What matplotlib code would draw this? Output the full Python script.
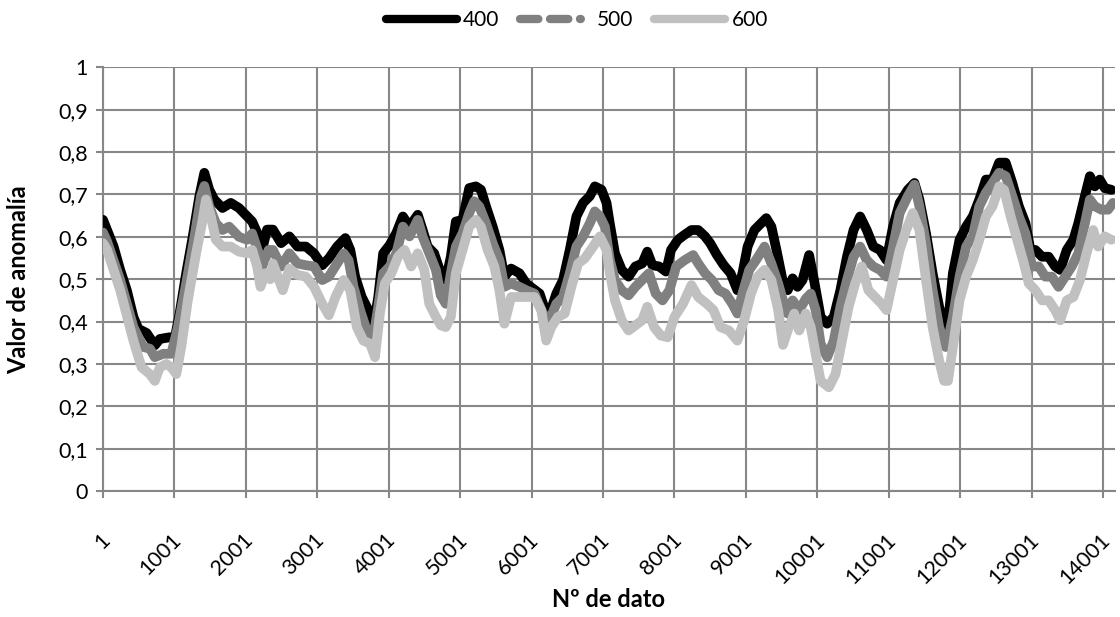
#Valor de anomalía por nº de dato (ventanas 400, 500, 600)
import numpy as np
import matplotlib
matplotlib.use('Agg')
import matplotlib.pyplot as plt
import matplotlib.transforms as mtransforms
from matplotlib.lines import Line2D

plt.rcParams['font.family'] = ['Lato', 'DejaVu Sans']

#datos (nº de dato, valor)
x_400 = [1, 149, 241, 334, 426, 495, 611, 726, 796, 934, 1003, 1073, 1165, 1257, 1350, 1419, 1488, 1558, 1673, 1789,
         1904, 2020, 2089, 2181, 2228, 2297, 2379, 2494, 2609, 2724, 2840, 2955, 3070, 3162, 3278, 3393, 3462, 3531,
         3623, 3716, 3785, 3854, 3923, 4015, 4107, 4199, 4291, 4407, 4476, 4545, 4637, 4729, 4799, 4870, 4940, 5034,
         5128, 5221, 5292, 5362, 5456, 5550, 5620, 5714, 5831, 5925, 6019, 6113, 6206, 6277, 6347, 6441, 6535, 6628,
         6722, 6816, 6886, 6980, 7050, 7097, 7168, 7263, 7358, 7454, 7549, 7620, 7692, 7787, 7882, 7953, 8049, 8144,
         8239, 8334, 8429, 8501, 8596, 8691, 8786, 8882, 8953, 9025, 9120, 9215, 9286, 9358, 9429, 9524, 9586, 9655,
         9724, 9794, 9886, 9955, 10047, 10139, 10231, 10324, 10416, 10508, 10600, 10693, 10785, 10877, 10969, 11061,
         11154, 11269, 11361, 11430, 11523, 11615, 11707, 11776, 11845, 11899, 11992, 12084, 12177, 12269, 12361,
         12454, 12546, 12638, 12731, 12823, 12915, 12985, 13054, 13147, 13239, 13331, 13401, 13493, 13586, 13655,
         13747, 13817, 13886, 13955, 14025, 14117]
v_400 = [0.64, 0.577, 0.522, 0.474, 0.411, 0.383, 0.373, 0.344, 0.359, 0.363, 0.359, 0.419, 0.514, 0.601, 0.696, 0.751,
         0.711, 0.688, 0.668, 0.68, 0.668, 0.648, 0.636, 0.601, 0.569, 0.617, 0.617, 0.585, 0.601, 0.577, 0.577, 0.561,
         0.533, 0.549, 0.577, 0.597, 0.569, 0.506, 0.458, 0.427, 0.387, 0.458, 0.561, 0.581, 0.609, 0.648, 0.624, 0.652,
         0.616, 0.577, 0.561, 0.514, 0.498, 0.553, 0.636, 0.64, 0.715, 0.719, 0.711, 0.672, 0.624, 0.569, 0.506, 0.525,
         0.514, 0.49, 0.478, 0.466, 0.419, 0.43, 0.466, 0.498, 0.569, 0.648, 0.68, 0.696, 0.719, 0.711, 0.68, 0.63,
         0.561, 0.522, 0.506, 0.53, 0.537, 0.565, 0.533, 0.53, 0.518, 0.569, 0.593, 0.605, 0.616, 0.616, 0.601, 0.585,
         0.557, 0.533, 0.514, 0.474, 0.514, 0.577, 0.616, 0.632, 0.644, 0.624, 0.569, 0.49, 0.474, 0.502, 0.482, 0.498,
         0.557, 0.498, 0.411, 0.395, 0.411, 0.474, 0.553, 0.616, 0.648, 0.616, 0.577, 0.569, 0.545, 0.624, 0.68, 0.711,
         0.727, 0.688, 0.608, 0.514, 0.435, 0.387, 0.419, 0.514, 0.593, 0.624, 0.648, 0.688, 0.735, 0.735, 0.775,
         0.775, 0.727, 0.672, 0.632, 0.569, 0.569, 0.553, 0.553, 0.53, 0.522, 0.569, 0.593, 0.632, 0.696, 0.743, 0.719,
         0.735, 0.715, 0.711]

x_500 = [1, 56, 241, 426, 565, 657, 726, 842, 957, 1050, 1165, 1281, 1373, 1419, 1488, 1581, 1673, 1766, 1904, 2020,
         2089, 2181, 2228, 2320, 2379, 2494, 2609, 2724, 2840, 2955, 3070, 3162, 3278, 3370, 3439, 3508, 3600, 3693,
         3785, 3854, 3923, 4015, 4107, 4199, 4291, 4407, 4476, 4568, 4661, 4729, 4799, 4870, 4940, 5034, 5128, 5198,
         5268, 5362, 5456, 5550, 5620, 5714, 5831, 5925, 6042, 6159, 6253, 6347, 6441, 6535, 6628, 6722, 6816, 6886,
         6957, 7027, 7097, 7168, 7263, 7358, 7454, 7549, 7644, 7739, 7834, 7930, 8025, 8144, 8263, 8334, 8429, 8525,
         8620, 8715, 8810, 8882, 8953, 9048, 9143, 9262, 9358, 9453, 9520, 9586, 9655, 9747, 9840, 9909, 9978, 10047,
         10139, 10231, 10324, 10416, 10508, 10600, 10693, 10785, 10877, 10969, 11061, 11154, 11269, 11361, 11430,
         11523, 11615, 11707, 11799, 11830, 11868, 11899, 11992, 12084, 12177, 12269, 12361, 12454, 12546, 12639,
         12731, 12823, 12916, 13008, 13101, 13193, 13285, 13378, 13470, 13563, 13655, 13747, 13817, 13886, 13978,
         14071, 14140]
v_500 = [0.61, 0.59, 0.498, 0.387, 0.34, 0.336, 0.316, 0.324, 0.324, 0.387, 0.49, 0.6, 0.696, 0.72, 0.672, 0.632, 0.616,
         0.624, 0.6, 0.593, 0.608, 0.561, 0.53, 0.569, 0.569, 0.53, 0.561, 0.537, 0.533, 0.53, 0.498, 0.506, 0.537,
         0.561, 0.545, 0.482, 0.427, 0.379, 0.363, 0.435, 0.514, 0.53, 0.561, 0.624, 0.601, 0.64, 0.6, 0.561, 0.522,
         0.462, 0.442, 0.514, 0.577, 0.608, 0.656, 0.684, 0.672, 0.632, 0.585, 0.545, 0.482, 0.49, 0.482, 0.474, 0.466,
         0.419, 0.403, 0.442, 0.458, 0.514, 0.577, 0.601, 0.632, 0.66, 0.648, 0.624, 0.545, 0.498, 0.474, 0.462, 0.482,
         0.498, 0.514, 0.466, 0.45, 0.474, 0.53, 0.545, 0.557, 0.537, 0.514, 0.498, 0.474, 0.466, 0.442, 0.419, 0.466,
         0.522, 0.545, 0.577, 0.537, 0.49, 0.45, 0.419, 0.45, 0.427, 0.454, 0.466, 0.427, 0.348, 0.316, 0.355, 0.435,
         0.498, 0.553, 0.577, 0.545, 0.53, 0.522, 0.506, 0.577, 0.656, 0.696, 0.723, 0.672, 0.585, 0.474, 0.387, 0.34,
         0.348, 0.387, 0.411, 0.506, 0.577, 0.601, 0.672, 0.704, 0.727, 0.751, 0.743, 0.696, 0.648, 0.608, 0.53, 0.53,
         0.506, 0.506, 0.482, 0.506, 0.53, 0.561, 0.632, 0.688, 0.672, 0.664, 0.664, 0.68]

x_600 = [1, 56, 241, 426, 541, 657, 726, 796, 888, 957, 1027, 1096, 1188, 1304, 1396, 1442, 1511, 1581, 1673, 1789, 1904,
         2020, 2089, 2158, 2205, 2274, 2343, 2379, 2517, 2609, 2724, 2840, 2955, 3070, 3162, 3255, 3370, 3462, 3554,
         3646, 3739, 3808, 3877, 3946, 4038, 4130, 4223, 4315, 4407, 4499, 4568, 4661, 4730, 4799, 4870, 4940, 5034,
         5128, 5221, 5292, 5386, 5479, 5550, 5620, 5714, 5831, 5925, 6042, 6136, 6206, 6277, 6370, 6464, 6558, 6652,
         6746, 6863, 6957, 7050, 7097, 7168, 7263, 7358, 7454, 7549, 7620, 7715, 7811, 7906, 8001, 8120, 8239, 8334,
         8453, 8548, 8644, 8763, 8882, 8977, 9072, 9167, 9262, 9358, 9453, 9520, 9586, 9678, 9747, 9840, 9909, 9978,
         10047, 10162, 10255, 10347, 10439, 10531, 10623, 10716, 10808, 10900, 10969, 11061, 11154, 11246, 11338,
         11430, 11523, 11615, 11707, 11776, 11830, 11899, 11992, 12084, 12177, 12269, 12361, 12454, 12546, 12615,
         12708, 12800, 12893, 12962, 13054, 13147, 13239, 13331, 13401, 13493, 13586, 13678, 13770, 13863, 13932,
         14025, 14117]
v_600 = [0.585, 0.57, 0.474, 0.355, 0.292, 0.276, 0.26, 0.292, 0.3, 0.292, 0.276, 0.34, 0.45, 0.561, 0.64, 0.688, 0.648,
         0.593, 0.577, 0.577, 0.565, 0.561, 0.569, 0.53, 0.482, 0.514, 0.5, 0.537, 0.474, 0.525, 0.51, 0.506, 0.482,
         0.442, 0.415, 0.458, 0.498, 0.474, 0.387, 0.355, 0.348, 0.316, 0.419, 0.49, 0.514, 0.553, 0.569, 0.53, 0.561,
         0.522, 0.442, 0.411, 0.391, 0.387, 0.411, 0.514, 0.569, 0.624, 0.64, 0.624, 0.569, 0.53, 0.474, 0.395, 0.458,
         0.458, 0.458, 0.458, 0.427, 0.355, 0.387, 0.411, 0.419, 0.482, 0.537, 0.549, 0.577, 0.601, 0.569, 0.514, 0.45,
         0.403, 0.379, 0.391, 0.403, 0.435, 0.387, 0.367, 0.363, 0.411, 0.442, 0.486, 0.458, 0.442, 0.427, 0.387,
         0.379, 0.355, 0.403, 0.466, 0.506, 0.522, 0.498, 0.427, 0.345, 0.379, 0.419, 0.379, 0.419, 0.387, 0.324, 0.26,
         0.245, 0.276, 0.355, 0.435, 0.49, 0.53, 0.474, 0.458, 0.442, 0.427, 0.498, 0.569, 0.616, 0.656, 0.616, 0.498,
         0.387, 0.308, 0.26, 0.26, 0.34, 0.45, 0.506, 0.545, 0.593, 0.648, 0.672, 0.719, 0.711, 0.648, 0.593, 0.537,
         0.49, 0.474, 0.45, 0.45, 0.427, 0.403, 0.45, 0.458, 0.498, 0.561, 0.616, 0.577, 0.601, 0.593]

series = ['400', '500', '600']
y_ticks = [0, 0.1, 0.2, 0.3, 0.4, 0.5, 0.6, 0.7, 0.8, 0.9, 1]
x_ticks = [1, 1001, 2001, 3001, 4001, 5001, 6001, 7001, 8001, 9001, 10001, 11001, 12001, 13001, 14001]

grid_c = '#878787'

fig = plt.figure(figsize=(11.2, 6.17), dpi=100)
ax = fig.add_axes([0.092, 0.204, 0.9035, 0.687])

#series (600 encima de 500 encima de 400)
ax.plot(x_400, v_400, color='black', lw=7, solid_capstyle='round', solid_joinstyle='round', zorder=3)
ax.plot(x_500, v_500, color='#808080', lw=7, solid_capstyle='round', solid_joinstyle='round', zorder=4)
ax.plot(x_600, v_600, color='#c0c0c0', lw=7, solid_capstyle='round', solid_joinstyle='round', zorder=5)

ax.set_xlim(1, 14168)
ax.set_ylim(0, 1)
ax.set_yticks(y_ticks)
ax.set_yticklabels([('%g' % t).replace('.', ',') for t in y_ticks])
ax.set_xticks(x_ticks)
ax.set_xticklabels([str(t) for t in x_ticks], rotation=45, ha='right', va='center', rotation_mode='anchor')
ax.grid(True, color=grid_c, lw=1.5)
ax.set_axisbelow(True)

for s in ['top', 'right']:
    ax.spines[s].set_visible(False)
for s in ['left', 'bottom']:
    ax.spines[s].set_color(grid_c)
    ax.spines[s].set_linewidth(1.5)
ax.tick_params(axis='both', colors=grid_c, length=5, width=1.5, labelcolor='black', labelsize=15.5)
ax.tick_params(axis='x', pad=28)
ax.tick_params(axis='y', pad=6)

#desplazar un poco las etiquetas de x a la derecha
offset = mtransforms.ScaledTranslation(4 / 100, 0, fig.dpi_scale_trans)
for lbl in ax.get_xticklabels():
    lbl.set_transform(lbl.get_transform() + offset)

ax.set_xlabel('Nº de dato', fontsize=17, fontweight='bold')
ax.set_ylabel('Valor de anomalía', fontsize=17, fontweight='bold')
ax.xaxis.set_label_coords(0.5, -0.228)
ax.yaxis.set_label_coords(-0.072, 0.5)

#leyenda
handles = [Line2D([], [], color='black', lw=6, solid_capstyle='round'),
           Line2D([], [], color='#808080', lw=6, linestyle=(0, (2.2, 1.4, 2.2, 1.4, 0.1, 1.4)), dash_capstyle='round'),
           Line2D([], [], color='#c0c0c0', lw=6, solid_capstyle='round')]
fig.legend(handles, series, loc='upper center', bbox_to_anchor=(0.515, 1.014), ncol=3, frameon=False,
           fontsize=15, handlelength=3.4, handletextpad=0.3, columnspacing=1.0)

fig.savefig('out.png', dpi=100)
